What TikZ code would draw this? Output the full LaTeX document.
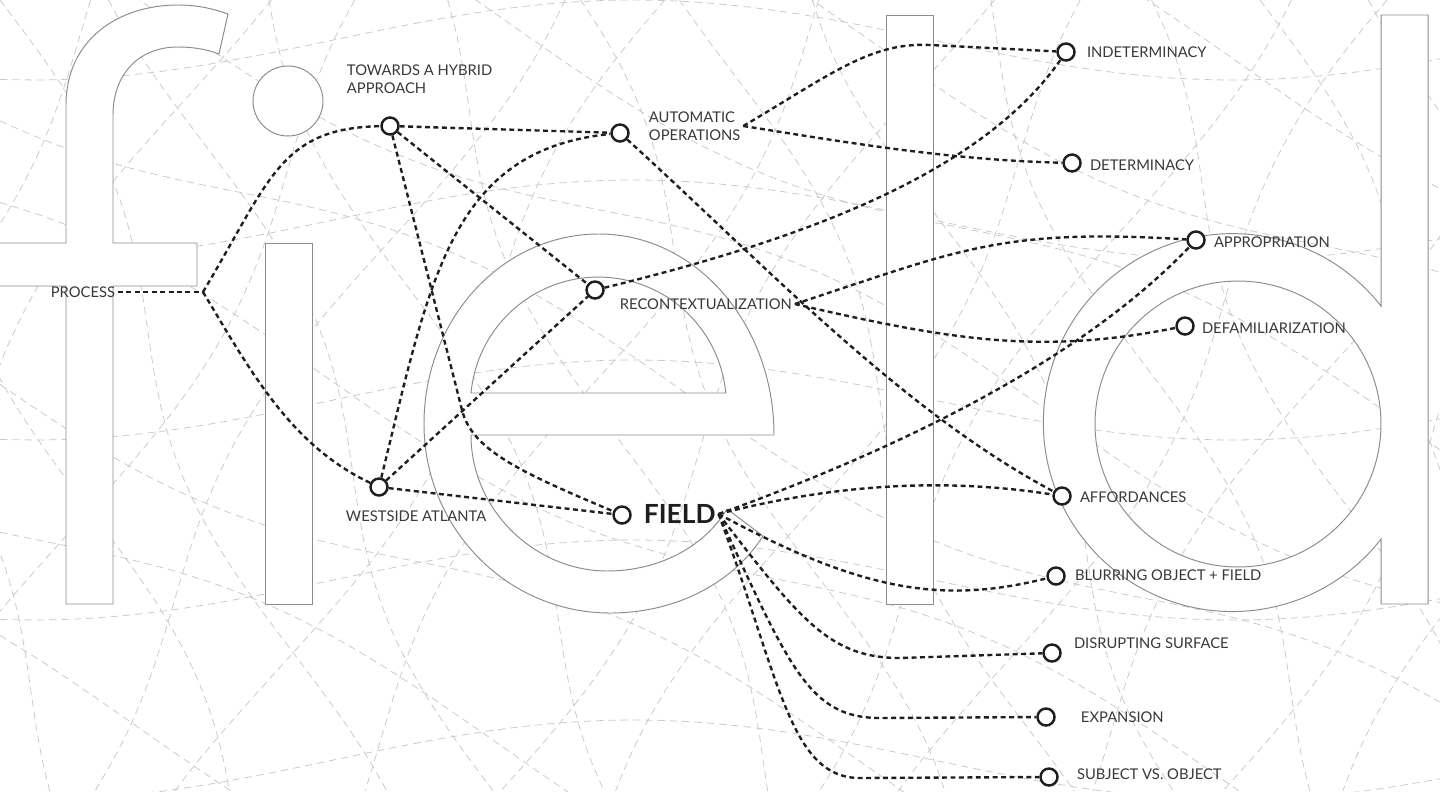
\documentclass[tikz,border=0pt]{standalone}
\usepackage{fontspec}
\setmainfont{Lato}

\definecolor{meshgray}{HTML}{CACACA}
\definecolor{glyphgray}{HTML}{8C8C8C}
\definecolor{inkdark}{HTML}{1E1E1E}
\definecolor{labelgray}{HTML}{383838}

\tikzset{
  mesh/.style={draw=meshgray, line width=0.45pt, dash pattern=on 4.2pt off 2.8pt},
  glyph/.style={draw=glyphgray, fill=white, line width=0.55pt},
  link/.style={draw=inkdark, line width=1.35pt, dash pattern=on 2.8pt off 2pt},
  topic/.style={circle, draw=inkdark, fill=white, line width=1.4pt,
    minimum size=0.34cm, inner sep=0pt},
  lbl/.style={font=\fontsize{8.4}{10.2}\selectfont, text=labelgray,
    inner sep=1.5pt, align=left},
  hub/.style={font=\fontsize{15}{18}\selectfont\bfseries, text=inkdark,
    inner sep=1.5pt}
}

\begin{document}
\begin{tikzpicture}[x=0.02cm, y=-0.02cm]
  \useasboundingbox (0,0) rectangle (1440,791);
  \clip (0,0) rectangle (1440,791);

  % background mesh
  \foreach \a in {-520,-375,...,1440}
    \draw[mesh] plot[smooth, domain=0:791, samples=26, variable=\t]
      ({\a+0.6*(791-\t)+35*sin(0.5*\t+\a)}, \t);
  \foreach \a in {-420,-280,...,1440}
    \draw[mesh] plot[smooth, domain=0:791, samples=26, variable=\t]
      ({\a+0.45*\t+32*sin(0.55*\t+2*\a)}, \t);
  \foreach \b in {-640,-495,...,790}
    \draw[mesh] plot[smooth, domain=0:1440, samples=34, variable=\t]
      (\t, {\b+0.45*\t+36*sin(0.4*\t+\b)});
  \foreach \b in {40,220,...,800}
    \draw[mesh] plot[smooth, domain=0:1440, samples=34, variable=\t]
      (\t, {\b+40*sin(0.3*\t+2*\b)});

  % letters f i e l d
  \path[glyph] (66,604) -- (66,286) -- (-5,286) -- (-5,243) -- (66,243) -- (66,105)
    .. controls (66,40) and (118,5) .. (178,5) .. controls (198,5) and (214,9) .. (228,14)
    -- (219,54) .. controls (206,49) and (192,47) .. (178,47)
    .. controls (138,47) and (113,75) .. (113,115)
    -- (113,243) -- (197,243) -- (197,286) -- (113,286) -- (113,604) -- cycle;
  \path[glyph] (288,101) circle[radius=0.7cm];
  \path[glyph] (265,243) rectangle (312,604);
  \path[glyph, even odd rule] (774,435) .. controls (774,324) and (696,234) .. (599,234)
    .. controls (502,234) and (424,319) .. (424,424)
    .. controls (424,528) and (507,613) .. (610,613)
    .. controls (680,613) and (735,580) .. (763,536) -- (727,509)
    .. controls (705,546) and (660,571) .. (607,571)
    .. controls (535,571) and (471,510) .. (471,435) -- cycle
    (471,393) arc[start angle=174.6, end angle=5.4, radius=2.56cm] -- cycle;
  \path[glyph] (886,15) rectangle (933,604);
  \path[glyph, even odd rule] (1381,306) arc[start angle=38.1, end angle=321.9, radius=3.78cm]
    -- (1381,604) -- (1428,604) -- (1428,15) -- (1381,15) -- cycle
    (1238,424) circle[radius=2.86cm];

  % topics
  \node[lbl, anchor=east] (proc-l) at (118,292) {PROCESS};
  \coordinate (split) at (203,292);
  \node[topic] (towards) at (390,126) {};
  \node[lbl, anchor=west] (towards-l) at (344,79) {TOWARDS A HYBRID\\APPROACH};
  \node[topic] (auto) at (620,133) {};
  \node[lbl, anchor=west] (auto-l) at (646,126) {AUTOMATIC\\OPERATIONS};
  \node[topic] (recon) at (595,290) {};
  \node[lbl, anchor=west] (recon-l) at (617,304) {RECONTEXTUALIZATION};
  \node[topic] (west) at (379,487) {};
  \node[lbl, anchor=west] (west-l) at (343,516) {WESTSIDE ATLANTA};
  \node[topic] (field) at (622,515) {};
  \node[hub, anchor=west] (field-l) at (641,514) {FIELD};

  \node[topic] (indet) at (1066,52) {};
  \node[lbl, anchor=west] at (1084,52) {INDETERMINACY};
  \node[topic] (det) at (1072,163) {};
  \node[lbl, anchor=west] at (1087,165) {DETERMINACY};
  \node[topic] (approp) at (1196,240) {};
  \node[lbl, anchor=west] at (1211,242) {APPROPRIATION};
  \node[topic] (defam) at (1185,326) {};
  \node[lbl, anchor=west] at (1199,328) {DEFAMILIARIZATION};
  \node[topic] (afford) at (1062,496) {};
  \node[lbl, anchor=west] at (1077,497) {AFFORDANCES};
  \node[topic] (blur) at (1056,576) {};
  \node[lbl, anchor=west] at (1072,575) {BLURRING OBJECT + FIELD};
  \node[topic] (disrupt) at (1052,653) {};
  \node[lbl, anchor=west] at (1071,643) {DISRUPTING SURFACE};
  \node[topic] (expan) at (1046,717) {};
  \node[lbl, anchor=west] at (1078,717) {EXPANSION};
  \node[topic] (subj) at (1049,777) {};
  \node[lbl, anchor=west] at (1074,774) {SUBJECT VS. OBJECT};

  % links
  \draw[link] (proc-l.east) -- (split);
  \draw[link] (split) .. controls (270,180) and (280,128) .. (towards);
  \draw[link] (split) .. controls (250,370) and (290,445) .. (west);

  \draw[link] (towards) -- (auto);
  \draw[link] (towards) -- (recon);
  \draw[link] (towards) -- (462,410) .. controls (472,450) and (520,472) .. (field);

  \draw[link] (west) .. controls (430,280) and (450,150) .. (auto);
  \draw[link] (west) -- (recon);
  \draw[link] (west) -- (field);

  \draw[link] (auto-l.east) .. controls (830,75) and (870,42) .. (930,45) .. controls (990,48) and (1030,50) .. (indet);
  \draw[link] (auto-l.east) .. controls (850,143) and (950,160) .. (det);
  \draw[link] (auto) .. controls (760,260) and (900,410) .. (afford);

  \draw[link] (recon) .. controls (800,240) and (980,175) .. (indet);
  \draw[link] (recon-l.east) .. controls (960,250) and (1000,228) .. (approp);
  \draw[link] (recon-l.east) .. controls (950,340) and (1040,355) .. (defam);

  \draw[link] (field-l.east) .. controls (950,430) and (1100,340) .. (approp);
  \draw[link] (field-l.east) .. controls (850,480) and (960,480) .. (afford);
  \draw[link] (field-l.east) .. controls (860,590) and (940,605) .. (blur);
  \draw[link] (field-l.east) .. controls (800,620) and (830,658) .. (900,658) -- (disrupt);
  \draw[link] (field-l.east) .. controls (790,670) and (810,718) .. (880,718) -- (expan);
  \draw[link] (field-l.east) .. controls (780,680) and (790,778) .. (860,778) -- (subj);
\end{tikzpicture}
\end{document}
